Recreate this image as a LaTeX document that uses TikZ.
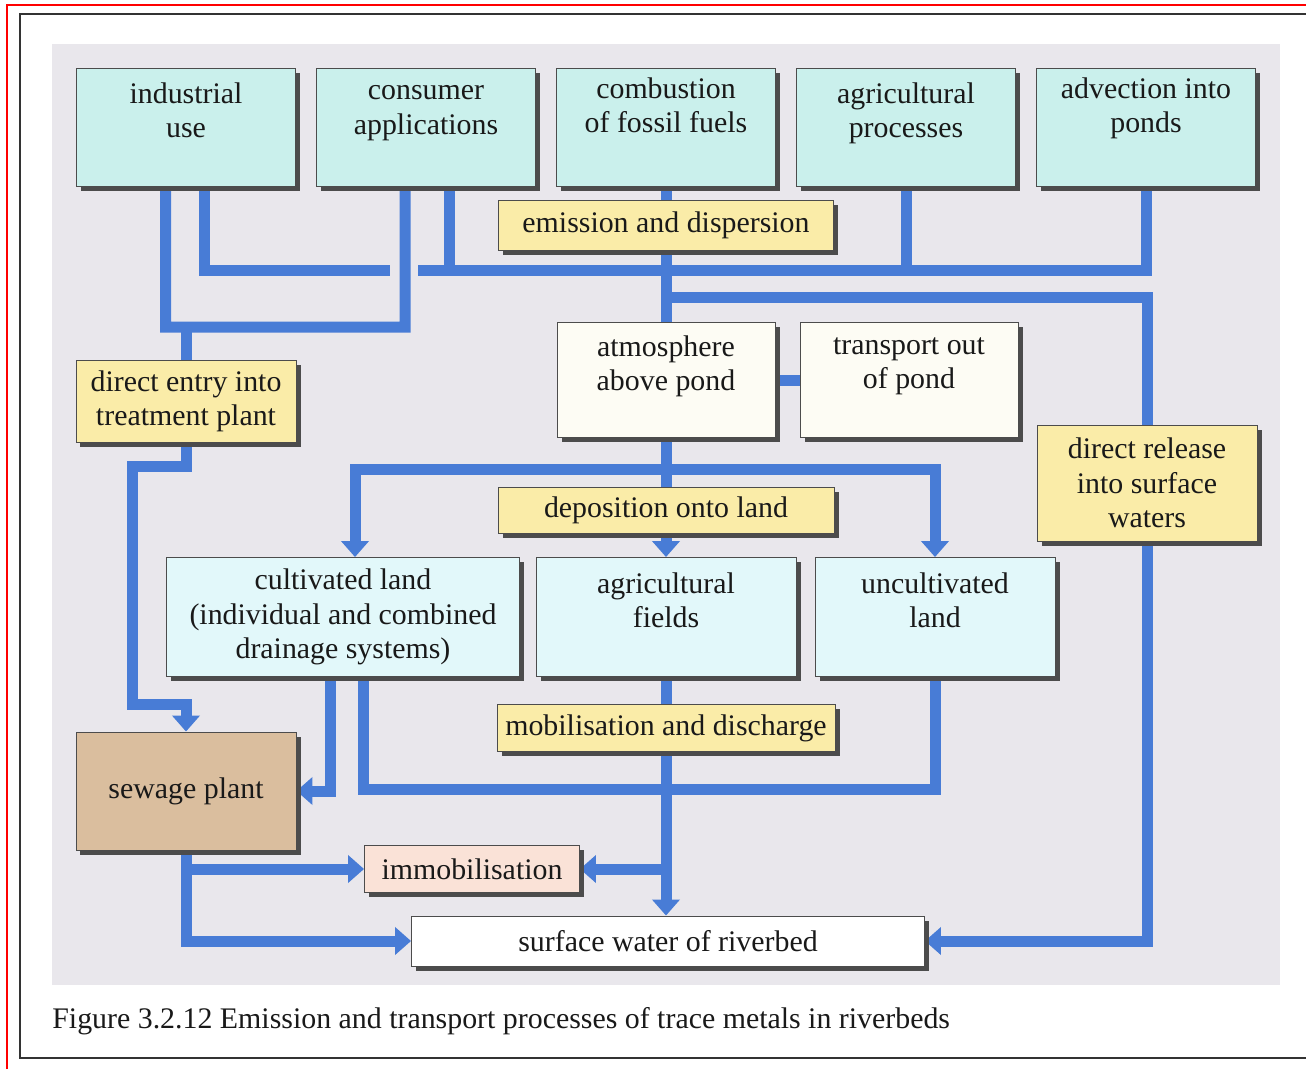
\documentclass[tikz,border=0pt]{standalone}
\usepackage{fontspec}
\setmainfont{Liberation Serif}
\usetikzlibrary{arrows.meta,shadows}
\pgfdeclarelayer{panel}
\pgfdeclarelayer{pipes}
\pgfsetlayers{panel,pipes,main}

\definecolor{srccyan}{RGB}{202,240,236}
\definecolor{landcyan}{RGB}{226,248,250}
\definecolor{procyellow}{RGB}{250,236,168}
\definecolor{pondwhite}{RGB}{253,252,244}
\definecolor{sewagetan}{RGB}{218,190,158}
\definecolor{immobpink}{RGB}{250,226,215}
\definecolor{pipeblue}{RGB}{72,124,214}
\definecolor{panelgray}{RGB}{233,231,236}

\tikzset{
  box/.style={draw=black!70, line width=0.5pt, align=center, inner sep=2pt,
    text=black!90, font=\fontsize{17}{19.5}\selectfont,
    drop shadow={shadow xshift=0.9mm, shadow yshift=-0.9mm, fill=black!70, opacity=1}},
  source/.style={box, fill=srccyan, minimum width=43.8mm, minimum height=23.6mm},
  process/.style={box, fill=procyellow},
  pond/.style={box, fill=pondwhite, minimum width=43.6mm, minimum height=23mm},
  land/.style={box, fill=landcyan, minimum height=23.8mm},
  pipe/.style={draw=pipeblue, line width=2.2mm},
  arr/.style={-{Triangle[width=5.4mm,length=3.2mm]}}
}

\begin{document}
\begin{tikzpicture}[x=0.2mm, y=-0.2mm]
    \useasboundingbox (0,0) rectangle (1306,1069);

    % Frames
    \draw[red, line width=0.4mm] (7,1069) -- (7,5) -- (1306,5);
    \draw[black!80, line width=0.5mm] (1306,14) -- (20,14) -- (20,1058) -- (1306,1058);
    \begin{pgfonlayer}{panel}
        \fill[panelgray] (52,44) rectangle (1280,985);
    \end{pgfonlayer}

    % Sources
    \foreach \name/\x/\gap/\txt in {indust/186/0mm/{industrial\\use},
        consum/426/0mm/{consumer\\applications},
        combust/666/2mm/{combustion\\of fossil fuels},
        agriproc/906/0mm/{agricultural\\processes},
        advect/1146/2mm/{advection into\\ponds}}
        \node[source] (\name) at (\x,127) {\txt\\[\gap]\mbox{}};

    % Processes and compartments
    \node[process, minimum width=67mm, minimum height=10mm] (emis) at (666,225) {emission and dispersion};
    \node[pond] (atmos) at (666,380) {atmosphere\\above pond\\\mbox{}};
    \node[pond] (transp) at (909,380) {transport out\\of pond\\\mbox{}};
    \node[process, minimum width=44mm, minimum height=16.4mm] (direntry) at (186,401) {direct entry into\\treatment plant};
    \node[process, minimum width=44mm, minimum height=23.2mm] (dirrel) at (1147,483) {direct release\\into surface\\waters};
    \node[process, minimum width=67.2mm, minimum height=9.2mm] (deposit) at (666,510) {deposition onto land};
    \node[land, minimum width=70.6mm] (cult) at (343,617) {cultivated land\\(individual and combined\\drainage systems)};
    \node[land, minimum width=52mm] (agrifield) at (666,617) {agricultural\\fields\\\mbox{}};
    \node[land, minimum width=48mm] (uncult) at (935,617) {uncultivated\\land\\\mbox{}};
    \node[process, minimum width=67.6mm, minimum height=9.4mm] (mobil) at (666,728) {mobilisation and discharge};
    \node[box, fill=sewagetan, minimum width=44mm, minimum height=23.6mm] (sewage) at (186,791) {sewage plant};
    \node[box, fill=immobpink, minimum width=43mm, minimum height=9.4mm] (immob) at (472,869) {immobilisation};
    \node[box, fill=white, minimum width=102.6mm, minimum height=10mm] (surf) at (668,941) {surface water of riverbed};

    % Caption
    \node[anchor=west, inner sep=0pt, text=black!90, font=\fontsize{17}{20}\selectfont] (caption) at (52,1021)
        {Figure 3.2.12 Emission and transport processes of trace metals in riverbeds};

    \begin{pgfonlayer}{pipes}
        % Collectors below the sources
        \draw[pipe] ([xshift=-4.1mm]indust.south) |- (405,327) -- ([xshift=-4.2mm]consum.south);
        \draw[pipe] (direntry.north |- 0,327) -- (direntry.north);
        \draw[pipe] ([xshift=3.7mm]indust.south) |- (390,270);
        \draw[pipe] (418,270) -| (advect.south);
        \draw[pipe] ([xshift=4.6mm]consum.south) -- ++(0,84);
        \draw[pipe] (agriproc.south) -- ++(0,84);

        % Central trunk
        \draw[pipe] (combust.south) -- (atmos.north);
        \draw[pipe] (combust.south |- 0,297) -| (dirrel.north);
        \draw[pipe] (atmos.east) -- (transp.west);

        % Deposition
        \draw[pipe, arr] (atmos.south) -- (agrifield.north);
        \draw[pipe, arr] (atmos.south |- 0,469) -| ([xshift=2.4mm]cult.north);
        \draw[pipe, arr] (atmos.south |- 0,469) -| (uncult.north);

        % Treatment plant
        \draw[pipe, arr] (direntry.south) |- (132,466) |- (sewage.north |- 0,704) -- (sewage.north);

        % Drainage and discharge
        \draw[pipe, arr] ([xshift=-2.6mm]cult.south) |- (sewage.east);
        \draw[pipe] ([xshift=4mm]cult.south) |- (uncult.south |- 0,789) -- (uncult.south);
        \draw[pipe, arr] (agrifield.south) -- (agrifield.south |- surf.north);
        \draw[pipe, arr] (agrifield.south |- immob.east) -- (immob.east);

        % Into the riverbed
        \draw[pipe, arr] (sewage.south) |- (surf.west);
        \draw[pipe, arr] (sewage.south |- immob.west) -- (immob.west);
        \draw[pipe, arr] (dirrel.south) |- (surf.east);
    \end{pgfonlayer}
\end{tikzpicture}
\end{document}
